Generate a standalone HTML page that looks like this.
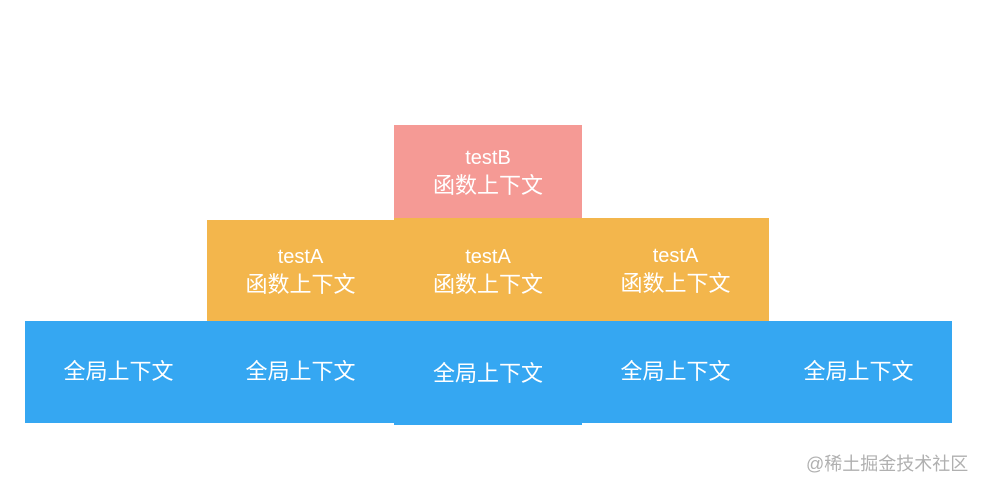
<!DOCTYPE html>
<html><head><meta charset="utf-8"><style>
body{margin:0;width:984px;height:488px;background:#fff;position:relative;overflow:hidden;font-family:"Liberation Sans","Noto Sans CJK SC",sans-serif;}
.b{position:absolute;color:#fff;font-size:22px;line-height:28px;display:flex;flex-direction:column;align-items:center;justify-content:center;text-align:center;}
.p{background:#f59a95}.o{background:#f3b64c}.u{background:#35a7f2}
.t{font-size:20px}
</style></head><body>
<div class="b p" style="left:394px;top:125px;width:188px;height:94px;"><div class="t">testB</div><div>函数上下文</div></div>
<div class="b o" style="left:207px;top:220px;width:187px;height:102px;"><div class="t">testA</div><div>函数上下文</div></div>
<div class="b o" style="left:394px;top:218px;width:188px;height:105px;"><div class="t">testA</div><div>函数上下文</div></div>
<div class="b o" style="left:582px;top:218px;width:187px;height:103px;"><div class="t">testA</div><div>函数上下文</div></div>
<div class="b u" style="left:25px;top:321px;width:927px;height:102px;"></div>
<div class="b u" style="left:394px;top:323px;width:188px;height:102px;"></div>
<div class="b" style="left:25px;top:321px;width:187px;height:102px;">全局上下文</div>
<div class="b" style="left:207px;top:321px;width:187px;height:102px;">全局上下文</div>
<div class="b" style="left:394px;top:323px;width:188px;height:102px;">全局上下文</div>
<div class="b" style="left:582px;top:321px;width:187px;height:102px;">全局上下文</div>
<div class="b" style="left:765px;top:321px;width:187px;height:102px;">全局上下文</div>
<div style="position:absolute;left:806px;top:450px;font-size:18px;color:#b0b0b0;">@稀土掘金技术社区</div>
</body></html>
